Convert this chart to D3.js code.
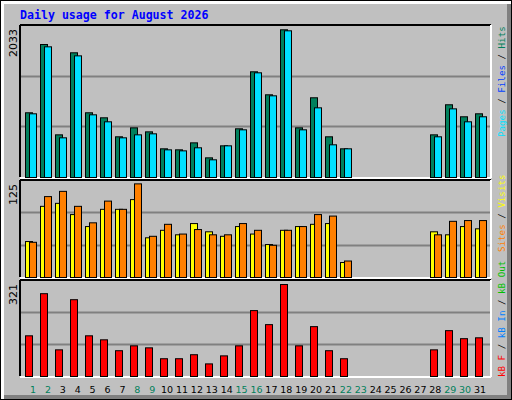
<!DOCTYPE html>
<html><head><meta charset="utf-8">
<script src="https://cdn.jsdelivr.net/npm/d3@7"></script>
<style>body{margin:0;background:#fff}svg{display:block}</style>
</head><body>
<script>
const days = d3.range(1, 32);
const weekend = [1, 2, 8, 9, 15, 16, 22, 23, 29, 30];
// null = no data that day
const hits  = [889,1827,586,1713,889,820,559,682,627,394,380,476,270,435,669,1452,1136,2029,682,1095,559,394,null,null,null,null,null,586,999,834,875];
const files = [875,1795,545,1671,861,765,545,586,600,380,366,408,243,435,655,1438,1122,2015,655,957,449,394,null,null,null,null,null,559,943,765,834];
const visits = [48,95,99,84,68,91,91,104,53,63,57,72,61,55,68,58,44,63,68,71,72,20,null,null,null,null,null,61,57,68,65];
const sites  = [47,108,115,95,73,102,91,125,55,71,58,64,57,57,72,63,43,63,68,84,82,22,null,null,null,null,null,57,75,76,76];
const kbytes = [142,289,93,268,142,128,90,107,100,62,62,76,44,72,107,230,181,321,107,174,90,62,null,null,null,null,null,93,160,132,135];

const W = 512, H = 400;
const svg = d3.select("body").append("svg").attr("width", W).attr("height", H);

// frame with bevel
svg.append("rect").attr("width", W).attr("height", H).attr("fill", "#000");
svg.append("rect").attr("x", 1).attr("y", 1).attr("width", W - 2).attr("height", H - 2).attr("fill", "#fff");
svg.append("rect").attr("x", 4).attr("y", 4).attr("width", W - 5).attr("height", H - 5).attr("fill", "#808080");
svg.append("rect").attr("x", 4).attr("y", 4).attr("width", W - 9).attr("height", H - 9).attr("fill", "#c0c0c0");

svg.append("text").attr("x", 20).attr("y", 19)
  .attr("font-family", "DejaVu Sans Mono").attr("font-weight", "bold").attr("font-size", 11.6)
  .attr("fill", "#0000ff").text("Daily usage for August 2026");

const x = d3.scaleLinear().domain([1, 31]).range([25, 475]);
const xl = d3.scaleLinear().domain([1, 31]).range([33, 480]);
const left = 20, right = 491;

function panel(top, bottom, max, label) {
  svg.append("line").attr("x1", left).attr("x2", right).attr("y1", top).attr("y2", top).attr("stroke", "#000").attr("stroke-width", 2);
  svg.append("line").attr("x1", left).attr("x2", left).attr("y1", top).attr("y2", bottom).attr("stroke", "#000").attr("stroke-width", 2);
  svg.append("line").attr("x1", left).attr("x2", right).attr("y1", bottom + 1).attr("y2", bottom + 1).attr("stroke", "#fff").attr("stroke-width", 2);
  svg.append("line").attr("x1", right).attr("x2", right).attr("y1", top).attr("y2", bottom + 1).attr("stroke", "#fff").attr("stroke-width", 2);
  const y = d3.scaleLinear().domain([0, max]).range([bottom, top]);
  [1 / 3, 2 / 3].forEach(f => {
    const gy = Math.round(bottom - (bottom - top) * f) + 0.5;
    svg.append("line").attr("x1", left + 1).attr("x2", right - 1).attr("y1", gy).attr("y2", gy).attr("stroke", "#808080").attr("stroke-width", 2);
  });
  svg.append("text").attr("transform", `translate(17,${top + 4}) rotate(-90)`).attr("text-anchor", "end")
    .attr("font-family", "DejaVu Sans").attr("font-size", 11).attr("fill", "#000").text(label);
  return y;
}

function bars(vals, y, dx, color, bottom) {
  svg.append("g").selectAll("rect").data(days.filter((d, i) => vals[i] != null)).join("rect")
    .attr("x", d => x(d) + dx + 0.5)
    .attr("y", d => y(vals[d - 1]) + 0.5)
    .attr("width", 7)
    .attr("height", d => bottom - y(vals[d - 1]))
    .attr("fill", color).attr("stroke", "#000").attr("stroke-width", 1);
}

const y1 = panel(25, 177, 2088, "2033");
bars(hits, y1, 0, "#00805c", 177);
bars(files, y1, 4, "#00e0ff", 177);

const y2 = panel(180, 277, 129.5, "125");
bars(visits, y2, 0, "#ffff00", 277);
bars(sites, y2, 4, "#ff8000", 277);

const y3 = panel(280, 376, 335, "321");
bars(kbytes, y3, 0, "#ff0000", 376);

// day labels
svg.append("g").selectAll("text").data(days).join("text")
  .attr("x", d => xl(d)).attr("y", 393).attr("text-anchor", "middle")
  .attr("font-family", "DejaVu Sans").attr("font-size", 9.5)
  .attr("fill", d => weekend.includes(d) ? "#00805c" : "#000").text(d => d);

// right legends
function legend(yBottom, parts) {
  const t = svg.append("text").attr("transform", `translate(505,${yBottom}) rotate(-90)`)
    .attr("font-family", "DejaVu Sans Mono").attr("font-size", 9.2);
  parts.forEach(([s, c]) => t.append("tspan").attr("fill", c).text(s));
}
legend(137, [["Pages", "#00e0ff"], [" / ", "#000"], ["Files", "#0040ff"], [" / ", "#000"], ["Hits", "#00805c"]]);
legend(252, [["Sites", "#ff8000"], [" / ", "#000"], ["Visits", "#ffff00"]]);
legend(377, [["kB F", "#ff0000"], [" / ", "#000"], ["kB In", "#0080ff"], [" / ", "#000"], ["kB Out", "#00c000"]]);
</script>
</body></html>
